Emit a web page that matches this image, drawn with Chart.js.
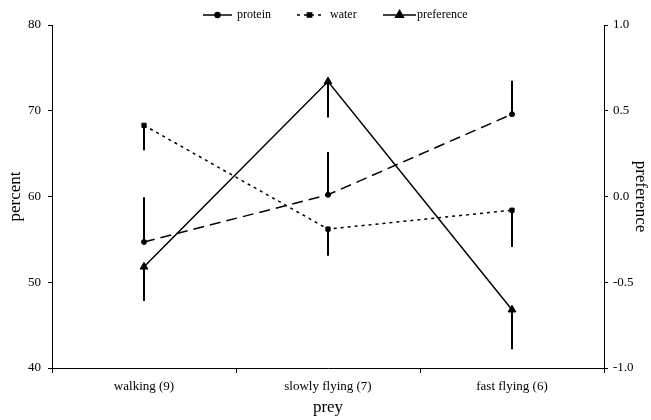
<!DOCTYPE html>
<html>
<head>
<meta charset="utf-8">
<script src="https://cdn.jsdelivr.net/npm/chart.js@4"></script>
<style>
html,body{margin:0;padding:0;background:#fff;}
#wrap{width:651px;height:420px;position:relative;}
</style>
</head>
<body>
<div id="wrap"><canvas id="c" width="651" height="420"></canvas></div>
<script>
const categories = ['walking (9)', 'slowly flying (7)', 'fast flying (6)'];
const protein = [54.7, 60.2, 69.6];
const proteinErr = [5.2, 5.0, 3.9];
const water = [68.3, 56.2, 58.4];
const waterErr = [2.9, 3.1, 4.3];
const preference = [-0.41, 0.67, -0.66];
const preferenceErr = [0.20, 0.21, 0.23];
const leftTicks = [40, 50, 60, 70, 80];
const rightTicks = [-1.0, -0.5, 0.0, 0.5, 1.0];

const FONT = "'Liberation Serif', 'Times New Roman', serif";

const errorBars = {
  id: 'errorBars',
  afterDatasetsDraw(chart) {
    const ctx = chart.ctx;
    const x = chart.scales.x;
    const defs = [
      {vals: protein, errs: proteinErr, dir: 1, axis: 'y'},
      {vals: water, errs: waterErr, dir: -1, axis: 'y'},
      {vals: preference, errs: preferenceErr, dir: -1, axis: 'y1'}
    ];
    ctx.save();
    ctx.strokeStyle = '#000';
    ctx.lineWidth = 2;
    defs.forEach(d => {
      const ys = chart.scales[d.axis];
      d.vals.forEach((v, i) => {
        const px = x.getPixelForValue(i);
        ctx.beginPath();
        ctx.moveTo(px, ys.getPixelForValue(v));
        ctx.lineTo(px, ys.getPixelForValue(v + d.dir * d.errs[i]));
        ctx.stroke();
      });
    });
    ctx.restore();
  }
};

const customLegend = {
  id: 'customLegend',
  afterDraw(chart) {
    const ctx = chart.ctx;
    const items = [
      {ds: 0, x0: 203, x1: 232, tx: 237},
      {ds: 1, x0: 297, x1: 322, tx: 330},
      {ds: 2, x0: 383, x1: 416, tx: 417}
    ];
    const y = 15;
    ctx.save();
    items.forEach(it => {
      const ds = chart.data.datasets[it.ds];
      ctx.strokeStyle = '#000';
      ctx.lineWidth = 1.5;
      ctx.setLineDash(it.ds === 1 ? [3, 4] : []);
      ctx.beginPath();
      ctx.moveTo(it.x0, y);
      ctx.lineTo(it.x1, y);
      ctx.stroke();
      ctx.setLineDash([]);
      const cx = (it.x0 + it.x1) / 2;
      Chart.helpers.drawPoint(ctx, {
        pointStyle: ds.pointStyle,
        radius: ds.pointRadius,
        borderWidth: 1
      }, cx, y);
      ctx.fillStyle = '#000';
      ctx.font = "12px " + FONT;
      ctx.textBaseline = 'middle';
      ctx.textAlign = 'left';
      ctx.fillText(ds.label, it.tx, y);
    });
    ctx.restore();
  }
};

new Chart(document.getElementById('c'), {
  type: 'line',
  data: {
    labels: categories,
    datasets: [
      {
        label: 'protein', data: protein, yAxisID: 'y',
        borderColor: '#000', backgroundColor: '#000', borderWidth: 1.5,
        borderDash: [11, 6], pointStyle: 'circle', pointRadius: 2.5,
        pointBorderWidth: 1, pointBackgroundColor: '#000', pointBorderColor: '#000', tension: 0
      },
      {
        label: 'water', data: water, yAxisID: 'y',
        borderColor: '#000', backgroundColor: '#000', borderWidth: 1.5,
        borderDash: [3, 4], pointStyle: 'rect', pointRadius: 3,
        pointBorderWidth: 1, pointBackgroundColor: '#000', pointBorderColor: '#000', tension: 0
      },
      {
        label: 'preference', data: preference, yAxisID: 'y1',
        borderColor: '#000', backgroundColor: '#000', borderWidth: 1.5,
        pointStyle: 'triangle', pointRadius: 4.5,
        pointBorderWidth: 1, pointBackgroundColor: '#000', pointBorderColor: '#000', tension: 0
      }
    ]
  },
  options: {
    responsive: false,
    animation: false,
    devicePixelRatio: 1,
    layout: {padding: {top: 25, left: 0, right: 0, bottom: 0}},
    plugins: {legend: {display: false}, tooltip: {enabled: false}},
    scales: {
      x: {
        type: 'category',
        offset: true,
        grid: {offset: true, drawOnChartArea: false, color: '#000', tickLength: 5},
        border: {color: '#000', width: 1},
        ticks: {color: '#000', font: {family: FONT, size: 13}, padding: 6, maxRotation: 0},
        title: {display: true, text: 'prey', color: '#000', font: {family: FONT, size: 17}, padding: {top: 0, bottom: 2}},
        afterFit(s) { s.height = 52; }
      },
      y: {
        position: 'left', min: 40, max: 80,
        afterBuildTicks(s) { s.ticks = leftTicks.map(v => ({value: v})); },
        grid: {drawOnChartArea: false, color: '#000', tickLength: 4},
        border: {color: '#000', width: 1},
        ticks: {color: '#000', font: {family: FONT, size: 13}, padding: 7},
        title: {display: true, text: 'percent', color: '#000', font: {family: FONT, size: 17}, padding: {top: 5, bottom: 0}},
        afterFit(s) { s.width = 52; }
      },
      y1: {
        position: 'right', min: -1, max: 1,
        afterBuildTicks(s) { s.ticks = rightTicks.map(v => ({value: v})); },
        grid: {drawOnChartArea: false, color: '#000', tickLength: 4},
        border: {color: '#000', width: 1},
        ticks: {color: '#000', font: {family: FONT, size: 13}, padding: 5, callback: v => Number(v).toFixed(1)},
        title: {display: true, text: 'preference', color: '#000', font: {family: FONT, size: 17}, padding: {top: 0, bottom: 0}},
        afterFit(s) { s.width = 47; }
      }
    }
  },
  plugins: [errorBars, customLegend]
});
</script>
</body>
</html>
